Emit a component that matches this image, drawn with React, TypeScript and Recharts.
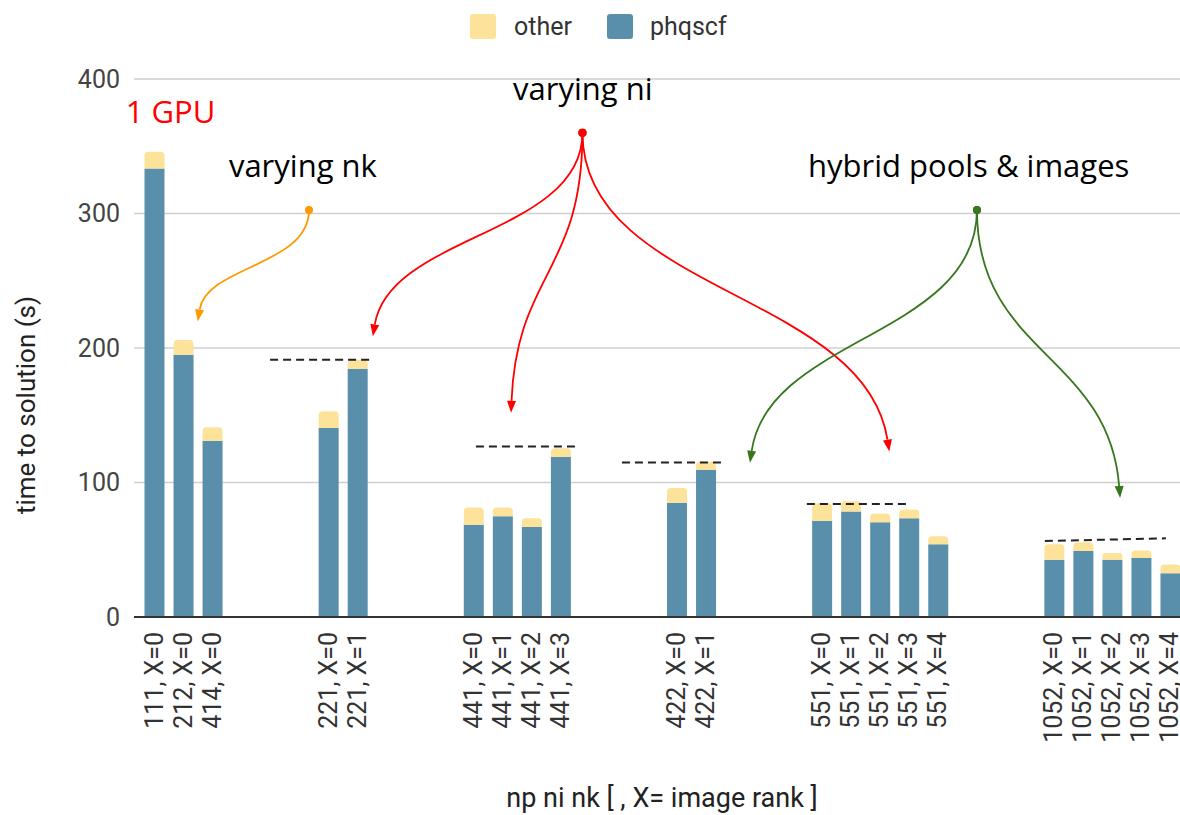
import React from 'react';
import {
  BarChart,
  Bar,
  XAxis,
  YAxis,
  CartesianGrid,
  Legend,
  ReferenceLine,
  ReferenceDot,
} from 'recharts';

// ---------- data ----------
const categories: string[] = [
  '111, X=0', '212, X=0', '414, X=0', '', '', '',
  '221, X=0', '221, X=1', '', '', '',
  '441, X=0', '441, X=1', '441, X=2', '441, X=3', '', '', '',
  '422, X=0', '422, X=1', '', '', '',
  '551, X=0', '551, X=1', '551, X=2', '551, X=3', '551, X=4', '', '', '',
  '1052, X=0', '1052, X=1', '1052, X=2', '1052, X=3', '1052, X=4',
];

const phqscf: (number | null)[] = [
  333.5, 195, 131, null, null, null,
  140.5, 184.5, null, null, null,
  68.5, 75, 67, 119, null, null, null,
  85, 109.5, null, null, null,
  71.5, 78.5, 70.5, 73.5, 54, null, null, null,
  42.5, 49, 42.5, 44, 32.5,
];

const other: (number | null)[] = [
  12.5, 11, 10, null, null, null,
  12.5, 6.5, null, null, null,
  13, 6.5, 6.5, 6.5, null, null, null,
  11, 6, null, null, null,
  13, 7.5, 6.5, 6.5, 6, null, null, null,
  11.5, 6.5, 5, 5.5, 6.5,
];

const yTicks = [0, 100, 200, 300, 400];

// annotation anchors in data units (x = category index, fractional allowed; y = seconds)
const dashedRefs = [
  { x1: 4.0, y1: 191.2, x2: 7.51, y2: 191.2 },
  { x1: 11.09, y1: 126.7, x2: 14.54, y2: 126.7 },
  { x1: 16.12, y1: 114.8, x2: 19.57, y2: 114.8 },
  { x1: 22.49, y1: 84.1, x2: 25.94, y2: 84.1 },
  { x1: 30.69, y1: 56.5, x2: 34.86, y2: 58.5 },
];

const arrows = [
  { color: '#ff9900', x1: 5.34, y1: 302.6, x2: 1.505, y2: 219.7 },
  { color: '#ff0000', x1: 14.76, y1: 360.1, x2: 7.54, y2: 208.7 },
  { color: '#ff0000', x1: 14.76, y1: 360.1, x2: 12.3, y2: 151.8 },
  { color: '#ff0000', x1: 14.76, y1: 360.1, x2: 25.33, y2: 123.0 },
  { color: '#38761d', x1: 28.35, y1: 302.6, x2: 20.53, y2: 114.6 },
  { color: '#38761d', x1: 28.35, y1: 302.6, x2: 33.28, y2: 88.5 },
];

const notes = [
  { text: '1 GPU', color: '#ff0000', x: -0.975, y: 367.3 },
  { text: 'varying nk', color: '#000000', x: 2.58, y: 327.5 },
  { text: 'varying ni', color: '#000000', x: 12.37, y: 384.6 },
  { text: 'hybrid pools & images', color: '#000000', x: 22.53, y: 327.5 },
];

const rows = categories.map((label, i) => ({
  key: 'c' + i,
  label,
  phqscf: phqscf[i],
  other: other[i],
}));
const labelByKey: Record<string, string> = {};
rows.forEach((r) => (labelByKey[r.key] = r.label));

const BLUE = '#5a8fac';
const YELLOW = '#fde39a';
const FONT = 'Roboto, sans-serif';

const XTick = (props: any) => {
  const { x, y, payload } = props;
  const label = labelByKey[payload.value];
  if (!label) return <g />;
  return (
    <text
      x={x}
      y={y}
      transform={`rotate(-90, ${x}, ${y})`}
      textAnchor="end"
      dominantBaseline="central"
      fontSize={25}
      fontFamily={FONT}
      fill="#333"
    >
      {label}
    </text>
  );
};

const makeArrow = (color: string) => (p: any) => {
  const { x1, y1, x2, y2 } = p;
  const k = (y2 - y1) * 0.5;
  const c1x = x1;
  const c1y = y1 + k;
  const c2x = x2 + (x1 - x2) * 0.08;
  const c2y = y2 - k;
  const ang = Math.atan2(y2 - c2y, x2 - c2x);
  const L = 12;
  const W = 4.5;
  const bx = x2 - L * Math.cos(ang);
  const by = y2 - L * Math.sin(ang);
  const px = -Math.sin(ang);
  const py = Math.cos(ang);
  const head = `M${x2},${y2} L${bx + W * px},${by + W * py} L${bx - W * px},${by - W * py} Z`;
  return (
    <g>
      <path
        d={`M${x1},${y1} C${c1x},${c1y} ${c2x},${c2y} ${bx},${by}`}
        fill="none"
        stroke={color}
        strokeWidth={1.8}
      />
      <path d={head} fill={color} />
      <circle cx={x1} cy={y1} r={4} fill={color} />
    </g>
  );
};

const makeNote = (text: string, color: string) => (p: any) => (
  <text
    x={p.cx}
    y={p.cy}
    fill={color}
    fontSize={31}
    fontFamily="'Open Sans', sans-serif"
  >
    {text}
  </text>
);

const LegendContent = () => (
  <div
    style={{
      display: 'flex',
      alignItems: 'center',
      fontFamily: FONT,
      fontSize: 25,
      color: '#333',
      whiteSpace: 'nowrap',
    }}
  >
    <span style={{ display: 'inline-block', width: 26, height: 25, borderRadius: 3, background: YELLOW }} />
    <span style={{ marginLeft: 18 }}>other</span>
    <span style={{ display: 'inline-block', width: 26, height: 25, borderRadius: 3, background: BLUE, marginLeft: 35 }} />
    <span style={{ marginLeft: 17 }}>phqscf</span>
  </div>
);

const YTitle = (props: any) => {
  const vb = props.viewBox || { x: 0, y: 79, width: 134, height: 538 };
  const cx = vb.x + 26;
  const cy = vb.y + vb.height / 2 + 57;
  return (
    <text
      x={cx}
      y={cy}
      transform={`rotate(-90, ${cx}, ${cy})`}
      textAnchor="middle"
      dominantBaseline="central"
      fontSize={26}
      fontFamily={FONT}
      fill="#222"
    >
      time to solution (s)
    </text>
  );
};

const XTitle = (props: any) => {
  const vb = props.viewBox || { x: 134, y: 617, width: 1056, height: 198 };
  const cx = vb.x + vb.width / 2;
  const cy = 807;
  return (
    <text x={cx} y={cy} textAnchor="middle" fontSize={27} fontFamily={FONT} fill="#222">
      np ni nk [ , X= image rank ]
    </text>
  );
};

export default function App() {
  return (
    <div
      style={{
        position: 'absolute',
        left: 0,
        top: 0,
        width: 1180,
        height: 815,
        overflow: 'hidden',
        background: '#fff',
      }}
    >
      <BarChart
        width={1200}
        height={815}
        data={rows}
        margin={{ top: 79, right: 10, bottom: 0, left: 0 }}
        style={{ fontFamily: FONT }}
      >
        <CartesianGrid vertical={false} stroke="#cfcfcf" strokeWidth={1.5} />
        <XAxis
          dataKey="key"
          type="category"
          interval={0}
          height={198}
          padding={{ left: 5.5, right: 5.5 }}
          tick={<XTick />}
          tickLine={false}
          tickSize={8}
          tickMargin={7}
          axisLine={{ stroke: '#333', strokeWidth: 2 }}
          label={{ content: <XTitle /> } as any}
        />
        <XAxis
          xAxisId="n"
          type="number"
          domain={[0, 35]}
          allowDataOverflow
          hide
          padding={{ left: 20, right: 20 }}
        />
        <YAxis
          width={134}
          domain={[0, 400]}
          ticks={yTicks}
          axisLine={false}
          tickLine={false}
          tickMargin={8}
          tick={{ fontSize: 25, fill: '#444', fontFamily: FONT }}
          label={{ content: <YTitle /> } as any}
        />
        <Legend
          layout="vertical"
          align="center"
          verticalAlign="middle"
          content={<LegendContent />}
          wrapperStyle={{ position: 'absolute', left: 470, top: 12, width: 320 }}
        />
        <Bar dataKey="phqscf" stackId="s" fill={BLUE} barSize={20} isAnimationActive={false} />
        <Bar
          dataKey="other"
          stackId="s"
          fill={YELLOW}
          barSize={20}
          radius={[4, 4, 0, 0]}
          isAnimationActive={false}
        />
        {dashedRefs.map((d, i) => (
          <ReferenceLine
            key={'d' + i}
            xAxisId="n"
            segment={[
              { x: d.x1, y: d.y1 },
              { x: d.x2, y: d.y2 },
            ]}
            stroke="#222"
            strokeWidth={2}
            strokeDasharray="8 5"
            ifOverflow="visible"
          />
        ))}
        {arrows.map((a, i) => (
          <ReferenceLine
            key={'a' + i}
            xAxisId="n"
            segment={[
              { x: a.x1, y: a.y1 },
              { x: a.x2, y: a.y2 },
            ]}
            ifOverflow="visible"
            shape={makeArrow(a.color)}
          />
        ))}
        {notes.map((n, i) => (
          <ReferenceDot
            key={'n' + i}
            xAxisId="n"
            x={n.x}
            y={n.y}
            r={0}
            ifOverflow="visible"
            shape={makeNote(n.text, n.color)}
          />
        ))}
      </BarChart>
    </div>
  );
}
